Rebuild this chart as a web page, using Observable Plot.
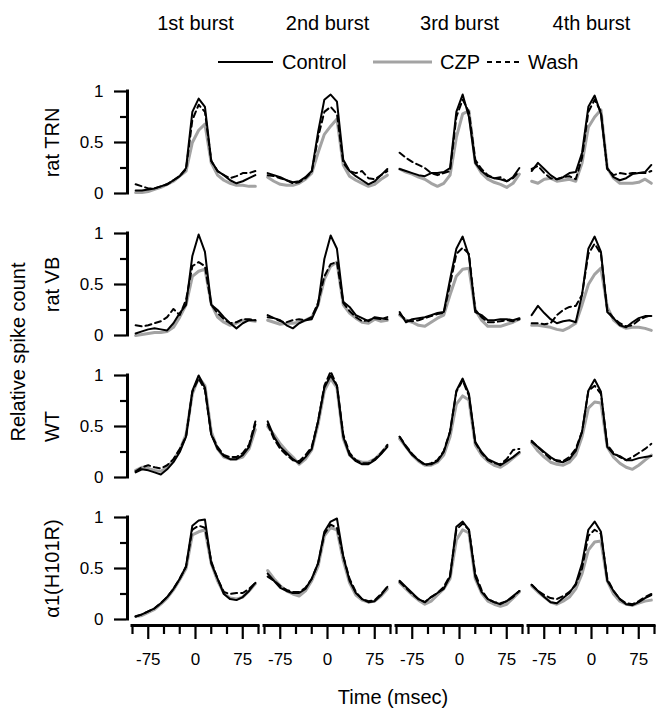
<!DOCTYPE html>
<html><head><meta charset="utf-8">
<script src="https://cdn.jsdelivr.net/npm/d3@7"></script>
<script src="https://cdn.jsdelivr.net/npm/@observablehq/plot@0.6"></script>
<style>
body{margin:0;background:#fff;}
#wrap{position:relative;width:660px;height:713px;font-family:"Liberation Sans",Arial,sans-serif;color:#000;}
#wrap svg{display:block;}
.lab{position:absolute;white-space:nowrap;font-size:20px;line-height:1;}
#legend{position:absolute;left:0;top:0;pointer-events:none;}
</style></head><body><div id="wrap"></div>
<script>
const BURSTS = ["1st burst", "2nd burst", "3rd burst", "4th burst"];
const PREPS = ["rat TRN", "rat VB", "WT", "α1(H101R)"];
const SERIES = ["Control", "CZP", "Wash"];
const TIMES = [-95,-85,-75,-65,-55,-45,-35,-25,-15,-5,5,15,25,35,45,55,65,75,85,95];
const XDOMAIN = [-100, 100];
const YDOMAIN = [0, 1];
const X_TICKS_MAJOR = [-75, 0, 75];
const X_TICKS_MINOR = [-100, -50, -25, 25, 50, 100];
const Y_TICKS_MAJOR = [0, 0.5, 1];
const Y_TICKS_MINOR = [0.25, 0.75];

// each array: one row of values per burst (1st..4th)
const trnControl = [
  [0.03,0.03,0.04,0.05,0.07,0.09,0.13,0.17,0.25,0.80,0.93,0.85,0.32,0.22,0.18,0.13,0.10,0.12,0.15,0.18],
  [0.20,0.18,0.16,0.13,0.11,0.12,0.16,0.22,0.60,0.92,0.97,0.90,0.33,0.22,0.17,0.13,0.09,0.12,0.18,0.24],
  [0.24,0.22,0.20,0.18,0.17,0.20,0.20,0.21,0.25,0.80,0.97,0.75,0.30,0.22,0.17,0.15,0.14,0.12,0.16,0.25],
  [0.22,0.30,0.24,0.18,0.14,0.16,0.20,0.21,0.40,0.85,0.96,0.78,0.25,0.16,0.13,0.15,0.19,0.20,0.21,0.28]
];
const trnCZP = [
  [0.01,0.01,0.02,0.04,0.06,0.09,0.12,0.17,0.22,0.50,0.62,0.68,0.30,0.18,0.13,0.10,0.08,0.08,0.07,0.07],
  [0.16,0.12,0.09,0.08,0.08,0.10,0.14,0.20,0.40,0.58,0.66,0.73,0.28,0.17,0.13,0.10,0.07,0.09,0.14,0.18],
  [0.24,0.21,0.19,0.16,0.14,0.10,0.07,0.10,0.18,0.55,0.78,0.81,0.30,0.20,0.14,0.11,0.09,0.06,0.10,0.19],
  [0.12,0.10,0.14,0.15,0.12,0.13,0.14,0.12,0.30,0.65,0.75,0.82,0.25,0.15,0.10,0.10,0.10,0.11,0.14,0.10]
];
const trnWash = [
  [0.09,0.07,0.05,0.05,0.07,0.09,0.13,0.17,0.24,0.72,0.87,0.80,0.32,0.22,0.18,0.15,0.17,0.20,0.20,0.22],
  [0.18,0.17,0.15,0.13,0.10,0.11,0.15,0.21,0.55,0.80,0.85,0.78,0.30,0.22,0.20,0.22,0.15,0.14,0.18,0.22],
  [0.40,0.35,0.31,0.28,0.25,0.20,0.18,0.20,0.22,0.75,0.92,0.80,0.33,0.24,0.18,0.15,0.16,0.12,0.15,0.22],
  [0.24,0.27,0.20,0.15,0.14,0.16,0.17,0.14,0.35,0.80,0.92,0.80,0.24,0.18,0.20,0.19,0.20,0.20,0.20,0.22]
];
const vbControl = [
  [0.02,0.04,0.06,0.07,0.06,0.05,0.12,0.22,0.30,0.78,0.99,0.82,0.30,0.25,0.18,0.12,0.07,0.12,0.15,0.15],
  [0.20,0.17,0.15,0.10,0.07,0.12,0.15,0.16,0.30,0.75,0.98,0.85,0.33,0.28,0.20,0.17,0.14,0.18,0.17,0.16],
  [0.23,0.13,0.16,0.17,0.18,0.20,0.22,0.23,0.55,0.85,0.97,0.78,0.23,0.20,0.15,0.15,0.16,0.16,0.15,0.17],
  [0.20,0.29,0.22,0.16,0.12,0.14,0.15,0.13,0.40,0.85,0.97,0.82,0.23,0.17,0.10,0.08,0.13,0.17,0.19,0.19]
];
const vbCZP = [
  [0.00,0.01,0.02,0.03,0.03,0.04,0.08,0.18,0.30,0.58,0.63,0.65,0.31,0.18,0.13,0.10,0.12,0.15,0.15,0.14],
  [0.15,0.13,0.11,0.12,0.12,0.13,0.15,0.18,0.30,0.55,0.68,0.72,0.30,0.22,0.17,0.13,0.12,0.16,0.14,0.15],
  [0.20,0.15,0.13,0.10,0.09,0.13,0.17,0.20,0.40,0.58,0.65,0.66,0.25,0.15,0.09,0.09,0.09,0.11,0.13,0.16],
  [0.10,0.10,0.09,0.08,0.06,0.05,0.08,0.12,0.30,0.50,0.60,0.66,0.28,0.15,0.10,0.07,0.08,0.08,0.07,0.05]
];
const vbWash = [
  [0.10,0.09,0.10,0.12,0.14,0.18,0.26,0.20,0.35,0.68,0.72,0.68,0.30,0.22,0.16,0.12,0.13,0.16,0.16,0.15],
  [0.18,0.17,0.14,0.13,0.15,0.16,0.15,0.18,0.32,0.58,0.70,0.72,0.32,0.24,0.18,0.14,0.15,0.17,0.16,0.18],
  [0.21,0.15,0.14,0.15,0.17,0.19,0.21,0.22,0.50,0.80,0.86,0.80,0.25,0.18,0.13,0.13,0.14,0.15,0.14,0.16],
  [0.12,0.12,0.11,0.12,0.20,0.25,0.28,0.29,0.40,0.80,0.90,0.80,0.25,0.17,0.12,0.09,0.10,0.15,0.18,0.20]
];
const wtControl = [
  [0.05,0.08,0.07,0.05,0.03,0.08,0.15,0.25,0.40,0.85,1.00,0.88,0.42,0.28,0.21,0.18,0.18,0.22,0.30,0.52],
  [0.55,0.40,0.30,0.24,0.18,0.14,0.20,0.28,0.55,0.88,1.00,0.90,0.40,0.22,0.16,0.13,0.13,0.17,0.23,0.30],
  [0.40,0.30,0.22,0.17,0.13,0.13,0.16,0.25,0.45,0.85,0.97,0.82,0.35,0.25,0.18,0.15,0.12,0.16,0.20,0.25],
  [0.35,0.30,0.25,0.20,0.16,0.15,0.18,0.26,0.45,0.85,0.96,0.84,0.30,0.23,0.21,0.17,0.17,0.19,0.20,0.21]
];
const wtCZP = [
  [0.07,0.10,0.09,0.07,0.06,0.10,0.17,0.27,0.42,0.82,0.98,0.90,0.45,0.28,0.20,0.18,0.18,0.20,0.28,0.47],
  [0.50,0.42,0.33,0.26,0.20,0.13,0.18,0.27,0.52,0.85,0.97,0.88,0.38,0.22,0.17,0.15,0.15,0.18,0.24,0.31],
  [0.38,0.30,0.22,0.16,0.12,0.12,0.15,0.22,0.40,0.72,0.80,0.76,0.32,0.22,0.16,0.12,0.10,0.14,0.19,0.24],
  [0.34,0.26,0.20,0.15,0.13,0.12,0.15,0.22,0.40,0.68,0.74,0.73,0.30,0.20,0.14,0.10,0.08,0.12,0.17,0.22]
];
const wtWash = [
  [0.06,0.10,0.12,0.10,0.09,0.12,0.18,0.28,0.40,0.84,0.97,0.86,0.42,0.30,0.22,0.20,0.20,0.24,0.32,0.55],
  [0.52,0.38,0.28,0.22,0.17,0.16,0.22,0.30,0.55,0.90,1.04,0.90,0.42,0.24,0.17,0.14,0.14,0.18,0.24,0.32],
  [0.40,0.31,0.23,0.17,0.12,0.14,0.17,0.26,0.45,0.84,0.95,0.80,0.34,0.24,0.17,0.14,0.13,0.18,0.27,0.28],
  [0.36,0.30,0.24,0.18,0.17,0.16,0.20,0.28,0.45,0.85,0.90,0.82,0.32,0.24,0.20,0.17,0.20,0.24,0.28,0.33]
];
const h101rControl = [
  [0.03,0.05,0.08,0.11,0.16,0.22,0.30,0.40,0.52,0.92,0.97,0.98,0.55,0.40,0.25,0.20,0.19,0.22,0.28,0.36],
  [0.45,0.38,0.31,0.28,0.26,0.26,0.30,0.40,0.55,0.86,0.96,0.99,0.62,0.38,0.26,0.20,0.17,0.18,0.24,0.32],
  [0.38,0.32,0.26,0.20,0.17,0.22,0.26,0.30,0.42,0.91,0.96,0.88,0.42,0.27,0.20,0.17,0.15,0.18,0.23,0.28],
  [0.34,0.28,0.22,0.17,0.16,0.21,0.26,0.35,0.55,0.88,0.96,0.86,0.38,0.28,0.20,0.15,0.14,0.17,0.21,0.24]
];
const h101rCZP = [
  [0.03,0.04,0.07,0.10,0.15,0.21,0.29,0.39,0.50,0.83,0.86,0.88,0.55,0.38,0.26,0.21,0.20,0.22,0.28,0.35],
  [0.48,0.40,0.33,0.28,0.25,0.23,0.28,0.38,0.52,0.82,0.90,0.88,0.58,0.36,0.24,0.19,0.17,0.18,0.23,0.30],
  [0.36,0.30,0.24,0.19,0.15,0.18,0.24,0.30,0.40,0.78,0.88,0.85,0.40,0.26,0.18,0.15,0.13,0.15,0.21,0.27],
  [0.33,0.27,0.22,0.17,0.15,0.18,0.22,0.30,0.45,0.68,0.76,0.77,0.38,0.25,0.18,0.15,0.14,0.16,0.18,0.19]
];
const h101rWash = [
  [0.03,0.05,0.08,0.11,0.16,0.22,0.30,0.40,0.52,0.88,0.92,0.90,0.57,0.40,0.27,0.25,0.26,0.26,0.30,0.36],
  [0.42,0.38,0.33,0.29,0.27,0.27,0.31,0.40,0.55,0.84,0.93,0.90,0.62,0.40,0.27,0.20,0.18,0.19,0.25,0.32],
  [0.37,0.31,0.25,0.20,0.17,0.22,0.26,0.32,0.43,0.88,0.94,0.88,0.45,0.29,0.20,0.17,0.16,0.18,0.22,0.28],
  [0.34,0.28,0.24,0.21,0.20,0.23,0.27,0.34,0.50,0.82,0.88,0.84,0.40,0.28,0.20,0.16,0.15,0.18,0.22,0.25]
];

const SOURCE = {
  "rat TRN": [trnControl, trnCZP, trnWash],
  "rat VB": [vbControl, vbCZP, vbWash],
  "WT": [wtControl, wtCZP, wtWash],
  "α1(H101R)": [h101rControl, h101rCZP, h101rWash]
};

const rows = [];
for (const prep of PREPS) {
  SOURCE[prep].forEach((arr, si) => {
    arr.forEach((vals, bi) => {
      vals.forEach((v, ti) => rows.push({prep, burst: BURSTS[bi], series: SERIES[si], t: TIMES[ti], v}));
    });
  });
}
const bySeries = s => rows.filter(d => d.series === s);
const leftCol = PREPS.map(p => ({prep: p, burst: BURSTS[0]}));
const bottomRow = BURSTS.map(b => ({prep: PREPS[PREPS.length - 1], burst: b}));
const yTicks = list => PREPS.flatMap(p => list.map(v => ({prep: p, burst: BURSTS[0], v})));
const FONT = "Liberation Sans, Arial, sans-serif";

// layout
const W = 660, H = 713, ML = 131, MR = 4, MT = 89, MB = 93;
const FX_PAD = 0.043;
const FACET_W = (W - ML - MR) / (BURSTS.length - FX_PAD) * (1 - FX_PAD);
const AXIS_GAP = 5, MAJOR = 13, MINOR = 7, LABEL_PAD = 11;

const chart = Plot.plot({
  width: W,
  height: H,
  marginTop: MT,
  marginBottom: MB,
  marginLeft: ML,
  marginRight: MR,
  style: {fontFamily: FONT, fontSize: "17px", color: "#000", background: "#fff", overflow: "visible"},
  fx: {domain: BURSTS, paddingInner: FX_PAD, paddingOuter: 0},
  fy: {domain: PREPS, paddingInner: 0.284, paddingOuter: 0},
  x: {domain: XDOMAIN},
  y: {domain: YDOMAIN, axis: null},
  marks: [
    Plot.axisFx({anchor: "top", label: null, tickSize: 0, tickPadding: 62, fontSize: 20}),
    Plot.axisFy({anchor: "left", label: null, tickSize: 0, tickRotate: -90, tickPadding: 74, fontSize: 20}),
    // y axis: line, ticks and labels on the left column
    Plot.ruleX(leftCol, {x: XDOMAIN[0], y1: YDOMAIN[0], y2: YDOMAIN[1], fx: "burst", fy: "prep", dx: -AXIS_GAP, strokeWidth: 3, strokeLinecap: "square"}),
    Plot.ruleY(yTicks(Y_TICKS_MAJOR), {y: "v", fx: "burst", fy: "prep", insetRight: FACET_W - MAJOR, dx: -(AXIS_GAP + MAJOR), strokeWidth: 2.2}),
    Plot.ruleY(yTicks(Y_TICKS_MINOR), {y: "v", fx: "burst", fy: "prep", insetRight: FACET_W - MINOR, dx: -(AXIS_GAP + MINOR), strokeWidth: 2.2}),
    Plot.text(yTicks(Y_TICKS_MAJOR), {y: "v", text: d => String(d.v), fx: "burst", fy: "prep", frameAnchor: "left", textAnchor: "end", dx: -(AXIS_GAP + MAJOR + LABEL_PAD), fontSize: 17}),
    // x axis on the bottom row
    Plot.axisX({ticks: X_TICKS_MAJOR, tickSize: 14, tickPadding: 13, dy: 6, strokeWidth: 2.2, fontSize: 17, tickFormat: d => String(d), label: null}),
    Plot.axisX({ticks: X_TICKS_MINOR, tickSize: 9, dy: 6, strokeWidth: 2.2, tickFormat: () => "", label: null}),
    Plot.ruleY(bottomRow, {y: YDOMAIN[0], x1: XDOMAIN[0], x2: XDOMAIN[1], fx: "burst", fy: "prep", dy: 6, strokeWidth: 3, strokeLinecap: "square"}),
    // data
    Plot.line(bySeries("CZP"), {x: "t", y: "v", fx: "burst", fy: "prep", stroke: "#a3a3a3", strokeWidth: 3}),
    Plot.line(bySeries("Control"), {x: "t", y: "v", fx: "burst", fy: "prep", stroke: "#000", strokeWidth: 2}),
    Plot.line(bySeries("Wash"), {x: "t", y: "v", fx: "burst", fy: "prep", stroke: "#000", strokeWidth: 2, strokeDasharray: "6,4"})
  ]
});

const wrap = document.getElementById("wrap");
wrap.appendChild(chart);

// legend
const NS = "http://www.w3.org/2000/svg";
const leg = document.createElementNS(NS, "svg");
leg.setAttribute("id", "legend");
leg.setAttribute("width", 660);
leg.setAttribute("height", 85);
const legendItems = [
  {label: "Control", x1: 218, x2: 273, tx: 282, stroke: "#000", w: 2, dash: null},
  {label: "CZP", x1: 373, x2: 432, tx: 440, stroke: "#a3a3a3", w: 3, dash: null},
  {label: "Wash", x1: 487, x2: 521, tx: 528, stroke: "#000", w: 2, dash: "5,4"}
];
for (const it of legendItems) {
  const l = document.createElementNS(NS, "line");
  l.setAttribute("x1", it.x1); l.setAttribute("x2", it.x2);
  l.setAttribute("y1", 62); l.setAttribute("y2", 62);
  l.setAttribute("stroke", it.stroke); l.setAttribute("stroke-width", it.w);
  if (it.dash) l.setAttribute("stroke-dasharray", it.dash);
  leg.appendChild(l);
  const t = document.createElementNS(NS, "text");
  t.setAttribute("x", it.tx); t.setAttribute("y", 69);
  t.setAttribute("font-family", FONT); t.setAttribute("font-size", 20);
  t.textContent = it.label;
  leg.appendChild(t);
}
wrap.appendChild(leg);

const ylab = document.createElement("div");
ylab.className = "lab";
ylab.textContent = "Relative spike count";
ylab.style.left = "18px"; ylab.style.top = "352px";
ylab.style.transform = "translate(-50%,-50%) rotate(-90deg)";
wrap.appendChild(ylab);

const xlab = document.createElement("div");
xlab.className = "lab";
xlab.textContent = "Time (msec)";
xlab.style.left = "393px"; xlab.style.top = "697px";
xlab.style.transform = "translate(-50%,-50%)";
wrap.appendChild(xlab);
</script></body></html>
